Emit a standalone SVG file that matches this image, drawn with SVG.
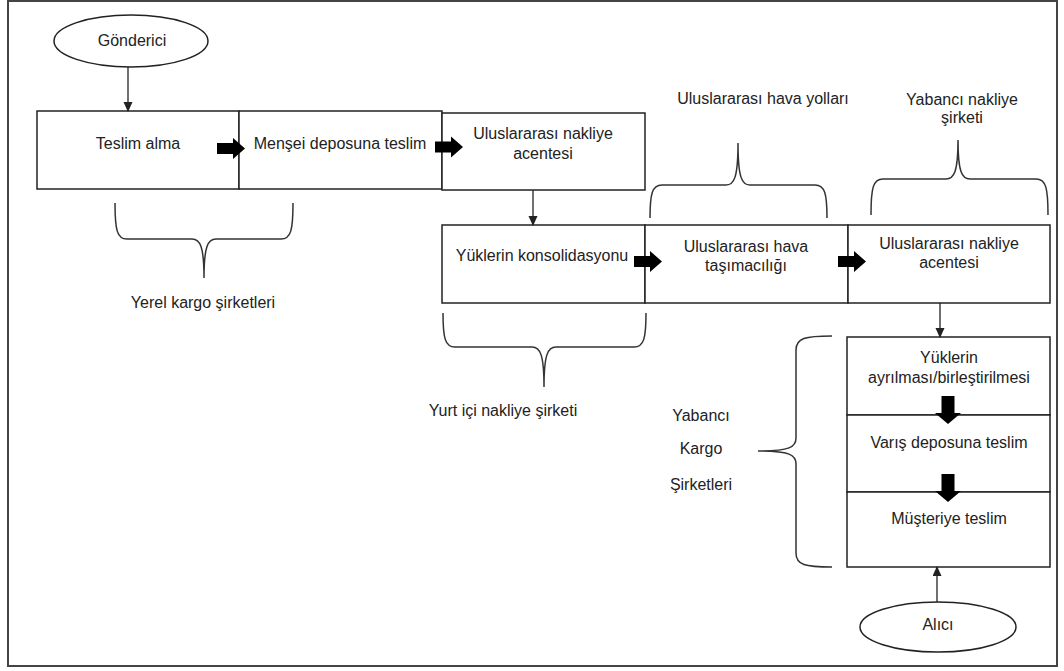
<svg xmlns="http://www.w3.org/2000/svg" width="1064" height="671" viewBox="0 0 1064 671">
<style>
.box{fill:#fff;stroke:#222;stroke-width:1.5}
.ell{fill:#fff;stroke:#222;stroke-width:1.5}
.t{font-family:"Liberation Sans",Arial,sans-serif;font-size:16px;fill:#222;text-anchor:middle}
.ln{stroke:#222;stroke-width:1.3;fill:none}
.brace{stroke:#333;stroke-width:1.5;fill:none}
.blk{fill:#000}
</style>
<defs>
<marker id="ah" markerWidth="10" markerHeight="10" refX="9" refY="4.5" orient="auto" markerUnits="userSpaceOnUse">
<path d="M0,0 L10,4.5 L0,9 z" fill="#222"/>
</marker>
<path id="harrow" d="M-28,-5.5 h16 v-5 l12,10.5 l-12,10.5 v-5 h-16 z"/>
<path id="varrow" d="M-6.5,-28 h13 v17 h6.5 l-13,11 l-13,-11 h6.5 z"/>
</defs>
<rect x="8" y="1" width="1049" height="665" fill="#fff" stroke="#444" stroke-width="2"/>

<g id="gonderici">
<ellipse class="ell" cx="131" cy="41" rx="77" ry="26"/>
<text class="t" x="132" y="46">Gönderici</text>
</g>
<g id="teslim-alma">
<rect class="box" x="37" y="111" width="202" height="78"/>
<text class="t" x="138" y="149">Teslim alma</text>
</g>
<g id="mensei">
<rect class="box" x="239" y="111" width="203" height="78"/>
<text class="t" x="340" y="149">Menşei deposuna teslim</text>
</g>
<g id="uluslararasi-nakliye-1">
<rect class="box" x="442" y="113" width="203" height="77"/>
<text class="t" x="543" y="139">Uluslararası nakliye</text>
<text class="t" x="543" y="159">acentesi</text>
</g>
<g id="konsolidasyon">
<rect class="box" x="442" y="225" width="203" height="78"/>
<text class="t" x="542" y="261">Yüklerin konsolidasyonu</text>
</g>
<g id="hava-tasimaciligi">
<rect class="box" x="645" y="225" width="203" height="78"/>
<text class="t" x="746" y="252">Uluslararası hava</text>
<text class="t" x="746" y="271">taşımacılığı</text>
</g>
<g id="uluslararasi-nakliye-2">
<rect class="box" x="848" y="225" width="202" height="78"/>
<text class="t" x="949" y="249">Uluslararası nakliye</text>
<text class="t" x="949" y="268">acentesi</text>
</g>
<g id="ayrilmasi">
<rect class="box" x="847" y="337" width="203" height="78"/>
<text class="t" x="949" y="363">Yüklerin</text>
<text class="t" x="949" y="383">ayrılması/birleştirilmesi</text>
</g>
<g id="varis">
<rect class="box" x="847" y="415" width="203" height="77"/>
<text class="t" x="949" y="448">Varış deposuna teslim</text>
</g>
<g id="musteri">
<rect class="box" x="847" y="492" width="203" height="75"/>
<text class="t" x="949" y="524">Müşteriye teslim</text>
</g>
<g id="alici">
<ellipse class="ell" cx="938" cy="627" rx="78" ry="25"/>
<text class="t" x="938" y="630">Alıcı</text>
</g>

<g id="braces">
<path class="brace" d="M115,203 C115,230 117,239 127,239 L192,239 C200,239 204,246 204,278 C204,246 208,239 216,239 L281,239 C291,239 293,230 293,203"/>
<text class="t" x="203" y="308">Yerel kargo şirketleri</text>
<path class="brace" d="M443,313 C443,338 445,347 455,347 L532,347 C540,347 544,354 544,387 C544,354 548,347 556,347 L634,347 C644,347 646,338 646,313"/>
<text class="t" x="503" y="416">Yurt içi nakliye şirketi</text>
<path class="brace" d="M650,218 C650,194 652,185 662,185 L726,185 C734,185 738,178 738,143 C738,178 742,185 750,185 L815,185 C825,185 827,194 827,218"/>
<text class="t" x="763" y="104">Uluslararası hava yolları</text>
<path class="brace" d="M871,215 C871,188 873,179 883,179 L946,179 C954,179 958,172 958,140 C958,172 962,179 970,179 L1036,179 C1046,179 1048,188 1048,215"/>
<text class="t" x="962" y="105">Yabancı nakliye</text>
<text class="t" x="962" y="123">şirketi</text>
<path class="brace" d="M832,336 C805,336 796,338 796,350 L796,438 C796,447 790,451 758,451 C790,451 796,455 796,464 L796,553 C796,565 805,567 832,567"/>
<text class="t" x="701" y="421">Yabancı</text>
<text class="t" x="701" y="454">Kargo</text>
<text class="t" x="701" y="490">Şirketleri</text>
</g>

<g id="connectors">
<line class="ln" x1="128" y1="67" x2="128" y2="111" marker-end="url(#ah)"/>
<line class="ln" x1="533" y1="190" x2="533" y2="225" marker-end="url(#ah)"/>
<line class="ln" x1="940" y1="303" x2="940" y2="337" marker-end="url(#ah)"/>
<line class="ln" x1="937" y1="602" x2="937" y2="567" marker-end="url(#ah)"/>
<use href="#harrow" class="blk" x="245" y="148.5"/>
<use href="#harrow" class="blk" x="463" y="147"/>
<use href="#harrow" class="blk" x="662" y="261.5"/>
<use href="#harrow" class="blk" x="866" y="261.5"/>
<use href="#varrow" class="blk" x="948" y="424"/>
<use href="#varrow" class="blk" x="948" y="502"/>
</g>
</svg>
